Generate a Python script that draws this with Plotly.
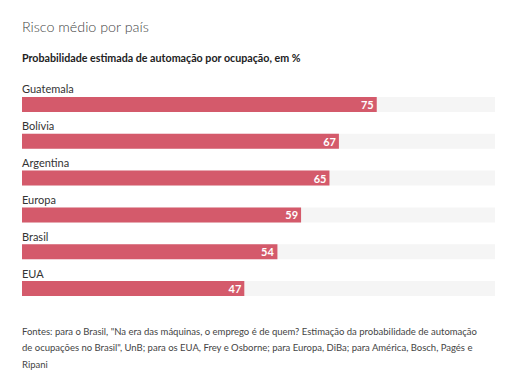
import plotly.graph_objects as go

countries = ["Guatemala", "Bolívia", "Argentina", "Europa", "Brasil", "EUA"]
values = [75, 67, 65, 59, 54, 47]
full_scale = [100] * len(countries)

title = "Risco médio por país"
subtitle = "Probabilidade estimada de automação por ocupação, em %"
source_lines = [
    "Fontes: para o Brasil, \"Na era das máquinas, o emprego é de quem? Estimação da probabilidade de automação",
    "de ocupações no Brasil\", UnB; para os EUA, Frey e Osborne; para Europa, DiBa; para América, Bosch, Pagés e",
    "Ripani",
]

FONT = "Lato"
BAR = "#d45a6b"
BG = "#f5f5f5"

fig = go.Figure()
fig.add_trace(go.Bar(
    y=countries, x=full_scale, orientation="h",
    marker=dict(color=BG, line=dict(width=0)),
    hoverinfo="skip", showlegend=False,
))
fig.add_trace(go.Bar(
    y=countries, x=values, orientation="h",
    marker=dict(color=BAR, line=dict(width=0)),
    text=[str(v) for v in values],
    textposition="inside", insidetextanchor="end", textangle=0,
    constraintext="none",
    textfont=dict(family=FONT, size=11, color="white", weight="bold"),
    showlegend=False,
))

annotations = []
for c in countries:
    annotations.append(dict(
        x=0, y=c, xref="x", yref="y", text=c, showarrow=False,
        xanchor="left", yanchor="bottom", yshift=7, xshift=-2,
        font=dict(family=FONT, size=11, color="#333333"),
    ))

annotations.append(dict(
    x=0, y=1.27, xref="paper", yref="paper", text=title, showarrow=False,
    xanchor="left", yanchor="middle", xshift=-2,
    font=dict(family=FONT, size=14.3, color="#444444", weight=300),
))
annotations.append(dict(
    x=0, y=1.127, xref="paper", yref="paper", text=subtitle, showarrow=False,
    xanchor="left", yanchor="middle", xshift=-2,
    font=dict(family=FONT, size=10.7, color="#222222", weight="bold"),
))
for i, line in enumerate(source_lines):
    annotations.append(dict(
        x=0, y=-0.11 - i * 0.075, xref="paper", yref="paper", text=line,
        showarrow=False, xanchor="left", yanchor="middle", xshift=-2,
        font=dict(family=FONT, size=9.5, color="#444444"),
    ))

fig.update_layout(
    width=508, height=370,
    margin=dict(l=14, r=21, t=78, b=71, pad=0),
    paper_bgcolor="white", plot_bgcolor="white",
    barmode="overlay", bargap=0.595,
    xaxis=dict(range=[0, 100], visible=False, fixedrange=True),
    yaxis=dict(categoryorder="array", categoryarray=countries[::-1],
               range=[-0.5, 5.5], autorange=False,
               visible=False, fixedrange=True),
    annotations=annotations,
    font=dict(family=FONT),
)

fig.write_html("out.html")
